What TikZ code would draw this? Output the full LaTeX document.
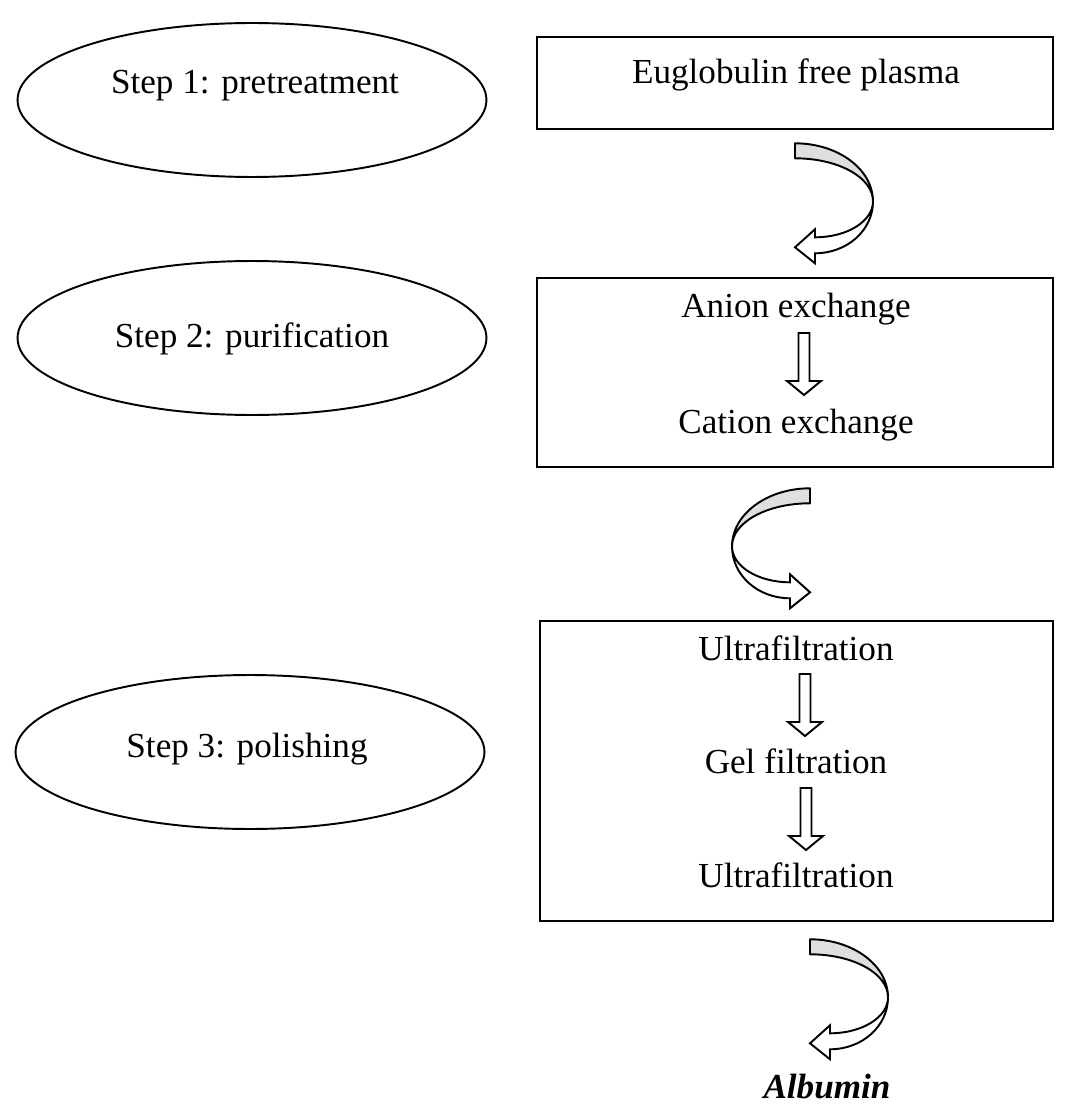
\documentclass[tikz,border=0pt]{standalone}
\usepackage{fontspec}
\setmainfont{Liberation Serif}
\usetikzlibrary{shapes.geometric,calc}
\tikzset{
  lbl/.style={font=\fontsize{20}{24}\selectfont, inner sep=0, anchor=base},
  stepell/.style={draw, ellipse, line width=1.1pt, minimum width=9.38cm, minimum height=3.08cm, inner sep=0},
  boxs/.style={draw, rectangle, line width=1.5pt, inner sep=0},
  curvarrow/.pic={
    \filldraw[fill=gray!25, line width=1.1pt, line join=round]
      (0,0) .. controls (43,0) and (78,26) .. (78,58)
      .. controls (78,34) and (43,15) .. (0,15) -- cycle;
    \filldraw[fill=white, line width=1.1pt, line join=miter]
      (78,58) .. controls (78,78) and (52,94) .. (20,94) -- (20,86) -- (0,104)
      -- (20,120) -- (20,110) .. controls (52,110) and (78,87) .. (78,58) -- cycle;
  },
  blockarrow/.pic={
    \draw[line width=1.1pt, line join=miter]
      (-5.5,0) -- (5.5,0) -- (5.5,48) -- (17,48) -- (0,62) -- (-17,48) -- (-5.5,48) -- cycle;
  }
}
\begin{document}
\begin{tikzpicture}[x=0.02cm, y=-0.02cm]
\useasboundingbox[fill=white] (0,0) rectangle (1076,1111);

% ellipses
\node[stepell] (e1) at (252,100) {};
\node[stepell] (e2) at (252,338) {};
\node[stepell] (e3) at (250,752) {};
\node[lbl] (t1) at (255,94) {Step 1: pretreatment};
\node[lbl] (t2) at (252,347) {Step 2: purification};
\node[lbl] (t3) at (247,757) {Step 3: polishing};

% boxes
\node[boxs, minimum width=10.32cm, minimum height=1.84cm] (b1) at (795,83) {};
\node[boxs, minimum width=10.32cm, minimum height=3.78cm] (b2) at (795,372.5) {};
\node[boxs, minimum width=10.26cm, minimum height=6.0cm] (b3) at (796.5,771) {};

% texts in boxes
\node[lbl] (eu) at (796,84) {Euglobulin free plasma};
\node[lbl] (an) at (796,317) {Anion exchange};
\node[lbl] (ca) at (796,433) {Cation exchange};
\node[lbl] (u1) at (796,660) {Ultrafiltration};
\node[lbl] (gf) at (796,773) {Gel filtration};
\node[lbl] (u2) at (796,887) {Ultrafiltration};
\node[lbl, font=\fontsize{20}{24}\selectfont\bfseries\itshape] (alb) at (827,1098) {Albumin};

% small block arrows
\pic at (804,333) {blockarrow};
\pic at (805,674) {blockarrow};
\pic at (806,788) {blockarrow};

% curved arrows
\pic at ($(b1.south)+(0,13)$) {curvarrow};
\pic[xscale=-1] at ($(b2.south)+(15,20)$) {curvarrow};
\pic at ($(b3.south)+(13.5,17)$) {curvarrow};
\end{tikzpicture}
\end{document}
